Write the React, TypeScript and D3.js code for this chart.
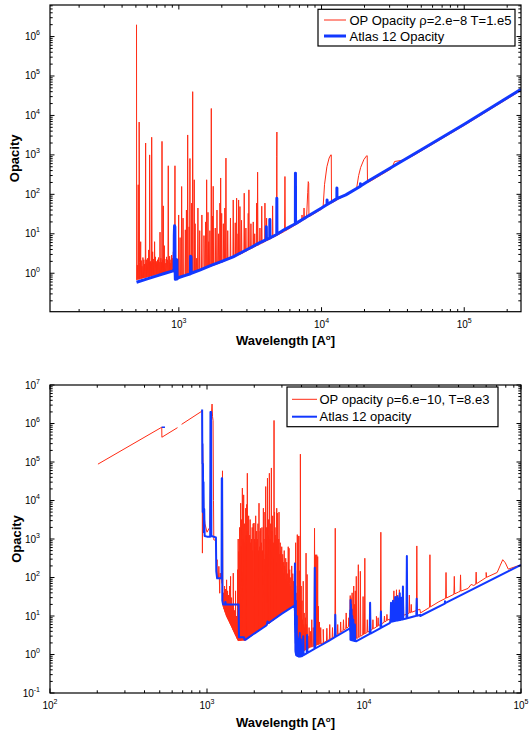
import React from 'react';
import * as d3 from 'd3';

type Pt = [number, number];

// ---------------- TOP PANEL DATA (rho=2e-8, T=1e5) ----------------
const TOP_X_DOMAIN: Pt = [125, 2.5e5];
const TOP_Y_DOMAIN: Pt = [0.106, 6.3e6];

const TOP_ATLAS: Pt[] = [
  [505, 0.59], [600, 0.72], [700, 0.86], [800, 1.0], [900, 1.13], [926, 1.2], [929, 9], [933, 16], [938, 15],
  [941, 1.3], [945, 0.7], [966, 0.71], [969, 2.2], [972, 0.73], [1000, 0.78], [1100, 0.87], [1205, 0.97],
  [1209, 2.7], [1216, 2.6], [1220, 1.0], [1400, 1.2], [1700, 1.6], [2000, 2.0], [2400, 2.6], [2725, 3.3],
  [3200, 4.5], [3640, 5.8], [4095, 7.1], [4100, 15], [4108, 7.2], [4335, 7.8], [4340, 23], [4348, 7.9],
  [4855, 9.6], [4861, 80], [4870, 9.7], [5500, 12.8], [6555, 18], [6563, 345], [6575, 18.1], [8000, 28],
  [10000, 45], [10930, 55], [10938, 72], [10950, 55], [12810, 78], [12818, 144], [12830, 78], [14800, 97],
  [18740, 160], [18751, 185], [18765, 162], [22000, 234], [50000, 1.35e3], [100000, 6.0e3], [250000, 4.6e4],
];

const TOP_OP_BASE: Pt[] = [
  [505, 2.0e6], [506, 0.68], [600, 0.8], [700, 0.93], [800, 1.05], [926, 1.16], [944, 0.72], [1000, 0.76],
  [1200, 0.93], [1500, 1.3], [2000, 1.9], [2725, 3.1], [4000, 6.3], [5500, 11.5], [6600, 17], [7850, 25],
  [8000, 110], [8070, 210], [8130, 190], [8160, 27], [10000, 42], [10250, 46], [10500, 180], [10900, 500],
  [11300, 830], [11600, 1000], [11700, 1000], [11750, 60], [17600, 140], [18200, 300], [18800, 480],
  [19800, 760], [20700, 950], [20900, 950], [21000, 200], [22000, 215], [31000, 450], [32500, 680],
  [36000, 720], [40000, 800], [44000, 960], [100000, 5.6e3], [250000, 4.3e4],
];

const TOP_OP_SPIKES: Pt[] = [
  [512, 1.6], [519, 175], [527, 6.8e3], [530, 1.9], [540, 6.3], [545, 2.1], [552, 1.5], [560, 2.5], [568, 2.2],
  [575, 1.7], [585, 2.0e3], [590, 1.8], [595, 2.2], [605, 2.4], [614, 3.9], [620, 1.9], [624, 1.0e3],
  [632, 2.0], [640, 1.8], [645, 2.8e3], [655, 3.5], [662, 2.3], [668, 1.9], [676, 6.3], [685, 2.6],
  [695, 2.0], [702, 1.8], [710, 2.2], [720, 2.5], [728, 1.9], [738, 11], [748, 2.4], [755, 1.9],
  [762, 2.2e3], [770, 2.2], [778, 51], [785, 1.9], [791, 5], [798, 2.3], [810, 1.8], [820, 2.6],
  [832, 2.2], [843, 530], [855, 2.0], [862, 2.7], [871, 1.8], [880, 2.2], [890, 2.9], [905, 2.4],
  [915, 3.5], [922, 2.6], [939, 530], [997, 30], [1020, 8], [1046, 158], [1070, 25], [1110, 12.6],
  [1130, 40], [1153, 3.2e3], [1180, 15], [1196, 810], [1230, 60], [1250, 4.0e4], [1282, 234], [1300, 18],
  [1333, 2.4], [1360, 45], [1400, 12], [1450, 30], [1500, 9], [1540, 20], [1566, 234], [1600, 35],
  [1618, 6.3], [1650, 12], [1688, 1.5e4], [1720, 28], [1741, 160], [1800, 14], [1850, 40], [1900, 10],
  [1941, 60], [1963, 260], [1996, 33], [2050, 18], [2100, 45], [2138, 830], [2200, 12], [2300, 25],
  [2405, 72], [2484, 19], [2540, 80], [2600, 10], [2623, 72], [2680, 49], [2750, 22], [2872, 107],
  [2950, 14], [3065, 33], [3097, 130], [3200, 18], [3322, 20], [3400, 10], [3510, 60], [3564, 365],
  [3700, 14], [3810, 50], [4011, 60], [4120, 25], [4540, 51], [4850, 910], [4865, 3.8e3], [5540, 283],
  [7300, 30], [7540, 45],
];

// ---------------- BOTTOM PANEL DATA (rho=6e-10, T=8e3) ----------------
const BOT_X_DOMAIN: Pt = [100, 1e5];
const BOT_Y_DOMAIN: Pt = [0.1, 1e7];

const BOT_OP_UV: Pt[] = [[202, 8.8e4], [515, 8.0e5], [516, 4.4e5], [649, 7.8e5]];
const BOT_ATLAS_UV: Pt[] = [[514, 8.0e5], [540, 8.0e5]];

const BOT_OP_BASE: Pt[] = [
  [689, 9.5e5], [929, 2.1e6], [933, 2.2e6], [935, 430], [937, 3e5], [945, 5e4], [955, 4.7e3], [970, 2.5e3],
  [1000, 1.5e3], [1040, 2e3], [1055, 5e4], [1065, 1.5e6], [1077, 3.2e6], [1085, 1.5e6], [1093, 1.2e6],
  [1100, 1e4], [1105, 950], [1140, 900], [1150, 250], [1165, 100], [1240, 90], [1248, 70], [1265, 18],
  [1330, 10], [1430, 5.4], [1560, 2.5], [1580, 2.3], [1754, 2.35], [2500, 6.6], [3000, 11.5], [3600, 18.5],
  [3645, 19], [3660, 1.3], [4000, 1.15], [4500, 1.5], [5500, 2.0], [6500, 2.9], [8100, 5.5], [8200, 5.8],
  [8260, 2.8], [9000, 2.6], [12000, 5.2], [14500, 8.3], [14600, 7.5], [19000, 11.5], [22700, 15],
  [22900, 12], [30000, 23.5], [40000, 42], [46000, 52], [48100, 66], [50000, 62], [60000, 100],
  [70500, 135], [73500, 200], [76500, 290], [79500, 240], [83000, 165], [100000, 214],
];

const BOT_OP_SPIKES: Pt[] = [
  [1122, 950], [1160, 290], [1190, 195], [1205, 39], [1215, 130], [1255, 5.9e4],
  [1275, 40], [1285, 25], [1294, 60], [1303, 30], [1313, 50], [1323, 22], [1333, 87], [1343, 28],
  [1352, 45], [1362, 20], [1372, 35], [1383, 18], [1393, 60], [1403, 16], [1413, 107], [1424, 14],
  [1434, 30], [1445, 12], [1455, 20], [1466, 10], [1470, 130], [1477, 16], [1488, 9], [1499, 14],
  [1510, 8], [1520, 45], [1533, 7], [1544, 10], [1556, 6],
  [1567, 160], [1580, 1000], [1590, 470], [1602, 200], [1614, 2000], [1626, 400], [1638, 8500], [1650, 630],
  [1662, 3200], [1680, 2.1e4], [1695, 1000], [1712, 1.4e4], [1725, 500], [1737, 2500], [1750, 800],
  [1763, 6300], [1776, 1260], [1789, 7900], [1807, 5.1e4], [1822, 1600], [1842, 4000], [1855, 630],
  [1869, 1260], [1883, 3200], [1897, 800], [1911, 400], [1925, 1000], [1940, 2000], [1954, 500],
  [1968, 2500], [1992, 2600], [2000, 300], [2012, 1000], [2027, 600], [2042, 4000], [2057, 800],
  [2072, 1600], [2093, 1000], [2103, 350], [2112, 2500], [2125, 500], [2144, 8500], [2165, 630],
  [2181, 1600], [2197, 1900], [2210, 400], [2220, 800], [2240, 2000], [2252, 450], [2263, 500],
  [2286, 6300], [2296, 400], [2306, 1000], [2320, 300], [2340, 5000], [2365, 2.3e4], [2382, 1000],
  [2400, 2000], [2415, 300], [2428, 3.8e4], [2446, 1260], [2460, 400], [2471, 3200], [2484, 600],
  [2496, 5.1e4], [2519, 1000], [2532, 350], [2545, 2500], [2558, 500], [2571, 7e4], [2594, 1600],
  [2608, 450], [2621, 4000], [2635, 300], [2647, 800], [2673, 1.2e6], [2683, 250], [2693, 5000],
  [2712, 2000], [2726, 300], [2739, 1260], [2760, 1000], [2770, 250], [2780, 6300], [2795, 300],
  [2808, 4700], [2821, 200], [2833, 630], [2850, 180], [2863, 1000], [2876, 5000], [2890, 200],
  [2905, 400], [2926, 800], [2937, 150], [2948, 500], [2970, 180], [2992, 630], [3014, 316], [3025, 120],
  [3036, 400], [3060, 130], [3081, 250], [3104, 500], [3115, 110], [3126, 200], [3150, 90], [3173, 316],
  [3196, 160], [3220, 250], [3240, 80], [3267, 126], [3291, 630], [3330, 575], [3350, 70], [3365, 160],
  [3390, 60], [3415, 100], [3440, 50], [3465, 200], [3490, 45], [3517, 126], [3553, 80], [3580, 40],
  [3655, 250], [3670, 800], [3680, 8], [3700, 25], [3720, 6], [3740, 40], [3760, 1300], [3780, 12],
  [3800, 1200], [3820, 30], [3830, 8], [3850, 1200], [3870, 50], [3880, 150], [3900, 20], [3934, 1.6e5],
  [3950, 15], [3980, 60], [4000, 10], [4030, 25], [4060, 8], [4102, 80], [4130, 6], [4160, 12], [4200, 5],
  [4240, 9], [4275, 430], [4300, 6], [4340, 120], [4400, 3], [4470, 5], [4550, 4], [4650, 8], [4750, 5],
  [4840, 1900], [4920, 390], [5000, 390], [5070, 350], [5120, 18], [5200, 7], [5300, 5], [5500, 4.5],
  [5800, 4.8], [6050, 6], [6300, 5], [6560, 1900], [6800, 6], [7100, 7], [7400, 8], [7700, 12],
  [8000, 9], [8100, 12], [8150, 20], [8170, 34], [8250, 30], [8300, 25], [8400, 40], [8500, 15],
  [8600, 60], [8700, 20], [8800, 45], [8930, 107], [9200, 215], [9480, 145], [9870, 32], [10120, 316],
  [10500, 8], [10900, 21], [10970, 22], [11400, 8], [12000, 9.8], [12300, 9], [12800, 1500], [13500, 10],
  [14000, 11], [14800, 20], [15200, 25], [15500, 45], [15800, 30], [16100, 48], [16400, 35], [16800, 48],
  [17300, 30], [17800, 40], [19450, 35], [20000, 20], [21700, 660], [26300, 390], [33300, 135],
  [37600, 107], [41200, 117], [51800, 138], [60000, 135],
];

const BOT_ATLAS_BASE: Pt[] = [
  [931, 2.3e6], [934, 9e4], [936, 3e5], [939, 5e3], [942, 9e4], [946, 8e3], [950, 3e4], [955, 1.5e3],
  [960, 6e3], [966, 1.2e3], [1000, 1.15e3], [1048, 1.15e3], [1052, 2.0e6], [1062, 2.0e6], [1066, 1.2e3],
  [1140, 1.1e3], [1146, 145], [1160, 95], [1238, 95], [1242, 3.8e4], [1248, 3.8e4], [1252, 25],
  [1265, 20], [1300, 20], [1310, 23], [1320, 20], [1590, 20], [1598, 2.8], [1720, 2.8], [1735, 2.4],
  [1754, 2.4], [2000, 3.5], [2300, 5.1], [2400, 5.8], [2430, 7.2], [2470, 6.6], [3000, 11.5],
  [3620, 18.8], [3660, 1.2], [3700, 0.95], [3850, 0.88], [4000, 0.9], [6000, 2.3], [8150, 4.8],
  [8200, 2.4], [8900, 2.2], [14584, 6.5], [14650, 7.0], [18000, 8.3], [21000, 9.8], [22790, 10.7],
  [22800, 10], [32700, 21], [32800, 24], [32900, 21.5], [100000, 214],
];

const BOT_ATLAS_SPIKES: Pt[] = [
  [3625, 40], [3632, 230], [3645, 150], [3655, 60], [3665, 12], [3680, 25], [3700, 6], [3730, 10],
  [3760, 3], [3800, 2.6], [3900, 3.6], [3960, 2.5], [4102, 3], [4340, 3.2], [4861, 180], [6563, 10.7],
  [8165, 14], [8210, 26], [8260, 20], [8330, 15], [8420, 10], [8550, 8], [8750, 6], [10938, 22],
  [12818, 13], [14860, 22], [15050, 18], [15300, 25], [15550, 20], [15800, 31], [16050, 24], [16300, 32],
  [16600, 28], [16900, 39], [17300, 30], [17700, 58], [18751, 360], [21661, 28],
];

const TOP_LEGEND = ['OP Opacity \u03c1=2.e\u22128 T=1.e5', 'Atlas 12 Opacity'];
const BOT_LEGEND = ['OP opacity \u03c1=6.e\u221210, T=8.e3', 'Atlas 12 opacity'];

// ---------------- helpers ----------------
const RED = '#ff2b14';
const BLUE = '#1238ff';
const FONT = "'Liberation Sans', Arial, Helvetica, sans-serif";

function withSpikes(base: Pt[], spikes: Pt[], hw = 0.0025): Pt[] {
  const bx = base.map((d) => Math.log10(d[0]));
  const by = base.map((d) => Math.log10(d[1]));
  const baseAt = d3.scaleLinear().domain(bx).range(by).clamp(true);
  const pts: Pt[] = base.map((d) => [Math.log10(d[0]), Math.log10(d[1])]);
  for (const [l, p] of spikes) {
    const lx = Math.log10(l);
    pts.push([lx - hw, baseAt(lx - hw)], [lx, Math.log10(p)], [lx + hw, baseAt(lx + hw)]);
  }
  pts.sort((a, b) => a[0] - b[0]);
  return pts.map(([a, b]) => [Math.pow(10, a), Math.pow(10, b)] as Pt);
}

function logTicks(lo: number, hi: number) {
  const major: number[] = [];
  const minor: number[] = [];
  for (let e = Math.floor(Math.log10(lo)); e <= Math.ceil(Math.log10(hi)); e++) {
    for (let m = 1; m <= 9; m++) {
      const v = m * Math.pow(10, e);
      if (v >= lo * 0.9999 && v <= hi * 1.0001) (m === 1 ? major : minor).push(v);
    }
  }
  return { major, minor };
}

type Series = { data: Pt[]; color: string; width: number };
type LegendSpec = {
  x: number; y: number; w: number; h: number; lx0: number; lx1: number; tx: number;
  rows: number[]; labels: string[]; widths: number[];
};

function Panel(props: {
  id: string; x0: number; x1: number; y0: number; y1: number; xd: Pt; yd: Pt;
  series: Series[]; legend: LegendSpec; ylabBase: number;
}) {
  const { id, x0, x1, y0, y1, xd, yd, series, legend, ylabBase } = props;
  const xs = d3.scaleLog().domain(xd).range([x0, x1]);
  const ys = d3.scaleLog().domain(yd).range([y1, y0]);
  const line = d3.line<Pt>().x((d) => xs(d[0])).y((d) => ys(d[1]));
  const xt = logTicks(xd[0], xd[1]);
  const yt = logTicks(yd[0], yd[1]);
  const MAJ = 4.5, MIN = 2.7;
  const tick: JSX.Element[] = [];
  xt.major.forEach((v, i) => {
    const x = xs(v);
    tick.push(<line key={'xM' + i} x1={x} x2={x} y1={y1} y2={y1 - MAJ} />);
    tick.push(<line key={'xMt' + i} x1={x} x2={x} y1={y0} y2={y0 + MAJ} />);
  });
  xt.minor.forEach((v, i) => {
    const x = xs(v);
    tick.push(<line key={'xm' + i} x1={x} x2={x} y1={y1} y2={y1 - MIN} />);
    tick.push(<line key={'xmt' + i} x1={x} x2={x} y1={y0} y2={y0 + MIN} />);
  });
  yt.major.forEach((v, i) => {
    const y = ys(v);
    tick.push(<line key={'yM' + i} x1={x0} x2={x0 + MAJ} y1={y} y2={y} />);
    tick.push(<line key={'yMr' + i} x1={x1} x2={x1 - MAJ} y1={y} y2={y} />);
  });
  yt.minor.forEach((v, i) => {
    const y = ys(v);
    tick.push(<line key={'ym' + i} x1={x0} x2={x0 + MIN} y1={y} y2={y} />);
    tick.push(<line key={'ymr' + i} x1={x1} x2={x1 - MIN} y1={y} y2={y} />);
  });
  const cx = (x0 + x1) / 2;
  const cy = (y0 + y1) / 2;
  return (
    <g>
      <defs>
        <clipPath id={id}>
          <rect x={x0} y={y0} width={x1 - x0} height={y1 - y0} />
        </clipPath>
      </defs>
      <g clipPath={`url(#${id})`}>
        {series.map((s, i) => (
          <path key={i} d={line(s.data) || ''} fill="none" stroke={s.color} strokeWidth={s.width}
            strokeLinejoin="round" />
        ))}
      </g>
      <g stroke="#000" strokeWidth={1}>{tick}</g>
      <rect x={x0} y={y0} width={x1 - x0} height={y1 - y0} fill="none" stroke="#000" strokeWidth={1.2} />
      {xt.major.map((v, i) => (
        <text key={'xl' + i} x={xs(v)} y={y1 + 16} fontSize={10} textAnchor="middle" fontFamily={FONT}>
          10<tspan dy={-5} fontSize={7}>{String(Math.round(Math.log10(v)))}</tspan>
        </text>
      ))}
      {yt.major.map((v, i) => (
        <text key={'yl' + i} x={40} y={ys(v) + 3.5} fontSize={10} textAnchor="end" fontFamily={FONT}>
          10<tspan dy={-5} fontSize={7}>{String(Math.round(Math.log10(v)))}</tspan>
        </text>
      ))}
      <text x={cx} y={y1 + 33.5} fontSize={13} fontWeight="bold" textAnchor="middle" fontFamily={FONT}>
        Wavelength [A<tspan dy={-5} fontSize={8}>o</tspan><tspan dy={5}>]</tspan>
      </text>
      <text x={ylabBase} y={cy} fontSize={13} fontWeight="bold" textAnchor="middle" fontFamily={FONT}
        transform={`rotate(-90, ${ylabBase}, ${cy})`}>Opacity</text>
      <g>
        <rect x={legend.x} y={legend.y} width={legend.w} height={legend.h} fill="#fff" stroke="#000" strokeWidth={1.2} />
        {legend.labels.map((lab, i) => (
          <g key={i}>
            <line x1={legend.lx0} x2={legend.lx1} y1={legend.rows[i]} y2={legend.rows[i]}
              stroke={i === 0 ? RED : BLUE} strokeWidth={legend.widths[i]} />
            <text x={legend.tx} y={legend.rows[i] + 4.5} fontSize={13} fontFamily={FONT}>{lab}</text>
          </g>
        ))}
      </g>
    </g>
  );
}

export default function App() {
  const topRed = withSpikes(TOP_OP_BASE, TOP_OP_SPIKES);
  const botRed = withSpikes(BOT_OP_BASE, BOT_OP_SPIKES);
  const botBlue = withSpikes(BOT_ATLAS_BASE, BOT_ATLAS_SPIKES);
  return (
    <svg width={529} height={733} style={{ position: 'absolute', left: 0, top: 0, background: '#fff' }}>
      <rect x={0} y={0} width={529} height={733} fill="#fff" />
      <Panel
        id="clipTop" x0={50} x1={521} y0={5} y1={311.7} xd={TOP_X_DOMAIN} yd={TOP_Y_DOMAIN}
        ylabBase={19.5}
        series={[
          { data: topRed, color: RED, width: 1 },
          { data: TOP_ATLAS, color: BLUE, width: 3 },
        ]}
        legend={{ x: 318, y: 9.3, w: 197, h: 36.7, lx0: 324, lx1: 346, tx: 349.5, rows: [20, 36], labels: TOP_LEGEND, widths: [1, 3] }}
      />
      <Panel
        id="clipBot" x0={50} x1={521} y0={385} y1={693} xd={BOT_X_DOMAIN} yd={BOT_Y_DOMAIN}
        ylabBase={20.5}
        series={[
          { data: BOT_OP_UV, color: RED, width: 1 },
          { data: botRed, color: RED, width: 1 },
          { data: BOT_ATLAS_UV, color: BLUE, width: 1.5 },
          { data: botBlue, color: BLUE, width: 2 },
        ]}
        legend={{ x: 287, y: 387, w: 211, h: 39.7, lx0: 292, lx1: 317, tx: 319.5, rows: [399.3, 416.7], labels: BOT_LEGEND, widths: [1, 2] }}
      />
    </svg>
  );
}
